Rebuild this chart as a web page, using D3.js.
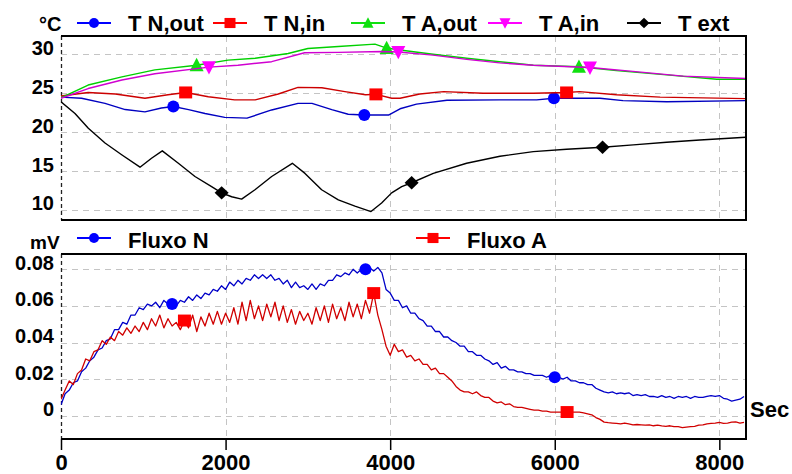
<!DOCTYPE html>
<html>
<head>
<meta charset="utf-8">
<script src="https://cdn.jsdelivr.net/npm/d3@7"></script>
<style>
  html, body { margin: 0; padding: 0; background: #fff; }
  svg { display: block; font-family: "Liberation Sans", Arial, sans-serif; font-weight: bold; }
</style>
</head>
<body>
<svg id="chart" width="792" height="474"></svg>
<script>
// ---------- Temperatures (°C) : [seconds, value] ----------
const tNout = [[0,24.5],[250,24.35],[535,23.7],[780,22.9],[1020,22.6],[1220,23.1],[1365,23.3],[1550,22.9],[1750,22.4],[1990,21.9],[2260,21.8],[2560,22.85],[2880,23.7],[3050,23.7],[3290,22.9],[3490,22.3],[3686,22.2],[3980,22.2],[4120,23.0],[4320,23.6],[4690,24.1],[5330,24.15],[5780,24.15],[5990,24.35],[6550,24.35],[6830,24.05],[7360,23.9],[8320,24.05]];
const tNin = [[0,24.65],[330,25.1],[660,24.9],[1020,24.35],[1300,24.8],[1515,25.1],[1790,24.55],[2110,24.15],[2360,24.15],[2640,24.9],[2880,25.75],[3170,25.7],[3450,25.2],[3700,24.8],[3827,24.85],[4020,24.35],[4120,24.35],[4360,24.9],[4650,25.2],[5130,25.0],[5740,25.0],[6144,25.1],[6300,25.2],[6750,24.8],[7280,24.5],[8320,24.3]];
const tAout = [[0,24.4],[330,26.05],[740,27.1],[1140,28.0],[1648,28.6],[2030,29.25],[2360,29.5],[2760,30.1],[3000,30.75],[3370,31.0],[3815,31.3],[3957,30.8],[4120,30.55],[4520,30.0],[4930,29.5],[5330,29.05],[5740,28.6],[6294,28.4],[6750,27.9],[7360,27.35],[7970,26.8],[8320,26.8]];
const tAin = [[0,24.35],[330,25.6],[740,26.7],[1140,27.5],[1798,28.35],[2150,28.6],[2560,29.05],[2960,30.2],[3370,30.25],[3900,30.35],[4099,30.3],[4520,29.9],[4930,29.35],[5330,28.9],[5740,28.6],[6428,28.3],[6950,27.8],[7560,27.2],[8320,26.9]];
const tExt = [[0,23.9],[170,22.4],[332,20.5],[535,18.6],[737,17.1],[960,15.5],[1100,16.65],[1231,17.6],[1426,16.0],[1628,14.3],[1830,13.0],[1952,12.2],[2074,11.7],[2195,11.4],[2357,12.6],[2560,14.3],[2811,16.0],[2965,14.7],[3167,12.6],[3370,11.3],[3572,10.5],[3767,9.8],[3896,10.9],[4018,12.2],[4140,13.0],[4261,13.5],[4524,14.7],[4929,16.0],[5334,16.9],[5739,17.5],[6144,17.8],[6581,18.06],[6954,18.36],[7359,18.7],[7764,19.0],[8320,19.35]];

// marker times for each temperature trace
const tNoutMarks = [1365, 3686, 5990];
const tNinMarks  = [1515, 3827, 6144];
const tAoutMarks = [1648, 3957, 6294];
const tAinMarks  = [1798, 4099, 6428];
const tExtMarks  = [1952, 4261, 6581];

// ---------- Heat flux (mV), sampled every 50 s ----------
const fluxSec = Array.from({length: 167}, (_, i) => i * 50);
const fluxoN = [
  0.006,0.012,0.014,0.018,0.019,0.024,0.026,0.030,0.032,0.036,
  0.037,0.041,0.042,0.047,0.047,0.051,0.050,0.055,0.055,0.059,
  0.058,0.061,0.060,0.062,0.059,0.063,0.061,0.061,0.060,0.063,
  0.062,0.065,0.063,0.066,0.064,0.067,0.066,0.069,0.068,0.071,
  0.069,0.073,0.071,0.074,0.072,0.075,0.074,0.077,0.075,0.077,
  0.075,0.077,0.074,0.075,0.072,0.074,0.070,0.073,0.070,0.071,
  0.069,0.072,0.069,0.072,0.071,0.074,0.074,0.077,0.076,0.078,
  0.077,0.080,0.078,0.080,0.080,0.081,0.079,0.081,0.078,0.069,
  0.067,0.063,0.063,0.059,0.060,0.056,0.056,0.053,0.052,0.049,
  0.049,0.046,0.046,0.043,0.043,0.041,0.040,0.038,0.038,0.035,
  0.035,0.033,0.033,0.031,0.030,0.028,0.029,0.026,0.027,0.025,
  0.025,0.024,0.024,0.023,0.023,0.022,0.022,0.022,0.021,0.022,
  0.021,0.021,0.020,0.021,0.019,0.019,0.018,0.018,0.017,0.017,
  0.015,0.014,0.013,0.0125,0.013,0.012,0.0125,0.012,0.0125,0.011,
  0.0115,0.011,0.0115,0.0105,0.0105,0.010,0.011,0.010,0.0105,0.0095,
  0.0105,0.010,0.0105,0.0095,0.0105,0.010,0.010,0.0105,0.011,0.0105,
  0.011,0.0095,0.009,0.008,0.0085,0.009,0.0105];
const fluxoA = [
  0.009,0.014,0.019,0.017,0.023,0.025,0.031,0.030,0.035,0.036,
  0.041,0.039,0.043,0.041,0.046,0.044,0.048,0.045,0.049,0.046,
  0.051,0.047,0.053,0.049,0.055,0.048,0.053,0.049,0.051,0.047,
  0.052,0.048,0.055,0.046,0.054,0.049,0.056,0.050,0.057,0.050,
  0.056,0.051,0.059,0.050,0.062,0.052,0.063,0.053,0.060,0.052,
  0.061,0.054,0.062,0.052,0.060,0.051,0.058,0.050,0.057,0.052,
  0.056,0.050,0.059,0.052,0.060,0.051,0.061,0.053,0.059,0.052,
  0.062,0.054,0.061,0.053,0.063,0.056,0.067,0.055,0.047,0.038,
  0.033,0.039,0.035,0.036,0.032,0.033,0.030,0.031,0.028,0.028,
  0.025,0.026,0.023,0.023,0.021,0.019,0.016,0.014,0.013,0.013,
  0.012,0.013,0.011,0.010,0.010,0.008,0.007,0.0075,0.006,0.0065,
  0.005,0.0045,0.0045,0.004,0.0035,0.003,0.003,0.0025,0.0025,0.002,
  0.002,0.002,0.002,0.002,0.002,0.002,0.002,0.0015,0.001,0.0005,
  -0.001,-0.002,-0.0035,-0.0038,-0.004,-0.0042,-0.0045,-0.004,-0.0045,-0.005,
  -0.0048,-0.005,-0.0052,-0.005,-0.0055,-0.0052,-0.0056,-0.0058,-0.0055,-0.006,
  -0.006,-0.0065,-0.0062,-0.006,-0.0058,-0.0052,-0.005,-0.0045,-0.0042,-0.004,
  -0.0036,-0.0042,-0.004,-0.0035,-0.0034,-0.004,-0.0036];
const fluxoNMarks = [1350, 3700, 6000];
const fluxoAMarks = [1500, 3800, 6150];

// ---------- Axis ticks ----------
const timeTicks = [0, 2000, 4000, 6000, 8000];
const tempTicks = [10, 15, 20, 25, 30];
const fluxTicks = [0, 0.02, 0.04, 0.06, 0.08];
const fluxTickLabels = ["0", "0.02", "0.04", "0.06", "0.08"];

// ---------- Layout ----------
const left = 61, right = 746;
const topPanel = {y0: 36, y1: 220};
const botPanel = {y0: 254, y1: 439};

const svg = d3.select("#chart");
const x = d3.scaleLinear().domain([0, 8324]).range([left, right]);
const yT = d3.scaleLinear().domain([8.715, 32.35]).range([topPanel.y1, topPanel.y0]);
const yB = d3.scaleLinear().domain([-0.01273, 0.08836]).range([botPanel.y1, botPanel.y0]);

const defs = svg.append("defs");
defs.append("clipPath").attr("id", "clipTop").append("rect")
  .attr("x", left).attr("y", topPanel.y0).attr("width", right - left).attr("height", topPanel.y1 - topPanel.y0);
defs.append("clipPath").attr("id", "clipBot").append("rect")
  .attr("x", left).attr("y", botPanel.y0).attr("width", right - left).attr("height", botPanel.y1 - botPanel.y0);

// marker shapes, w = width in px
function markerPath(shape, w) {
  const h = w / 2;
  switch (shape) {
    case "circle": return `M${h},0A${h},${h} 0 1,1 ${-h},0A${h},${h} 0 1,1 ${h},0Z`;
    case "square": return `M${-h},${-h * 0.92}H${h}V${h * 0.92}H${-h}Z`;
    case "up": return `M0,${-h * 1.05}L${h},${h * 0.85}L${-h},${h * 0.85}Z`;
    case "down": return `M0,${h * 1.05}L${h},${-h * 0.85}L${-h},${-h * 0.85}Z`;
    case "diamond": return `M0,${-h * 0.95}L${h},0L0,${h * 0.95}L${-h},0Z`;
  }
}

const gridColor = "#c4c4c4";

function drawGrid(yScale, ticks, panel) {
  const g = svg.append("g");
  g.selectAll("line.h").data(ticks).join("line")
    .attr("x1", left).attr("x2", right)
    .attr("y1", d => Math.round(yScale(d)) + 0.5).attr("y2", d => Math.round(yScale(d)) + 0.5)
    .attr("stroke", gridColor).attr("stroke-dasharray", "6,5").attr("stroke-width", 1);
  g.selectAll("line.v").data(timeTicks.slice(1)).join("line")
    .attr("x1", d => Math.round(x(d)) + 0.5).attr("x2", d => Math.round(x(d)) + 0.5)
    .attr("y1", panel.y0).attr("y2", panel.y1)
    .attr("stroke", gridColor).attr("stroke-dasharray", "6,5").attr("stroke-width", 1);
  // left edge: dark dashed
  g.append("line")
    .attr("x1", left + 0.5).attr("x2", left + 0.5).attr("y1", panel.y0).attr("y2", panel.y1)
    .attr("stroke", "#222").attr("stroke-dasharray", "4,3").attr("stroke-width", 1.3);
}

function drawFrame(panel) {
  const g = svg.append("g").attr("stroke", "#000").attr("stroke-width", 2).attr("fill", "none");
  g.append("path").attr("d", `M${left},${panel.y0}H${right}V${panel.y1}H${left}`);
}

function yLabels(scale, ticks, labels) {
  const ax = d3.axisLeft(scale).tickValues(ticks).tickSize(0).tickPadding(7)
    .tickFormat((d, i) => labels ? labels[i] : d);
  const g = svg.append("g").attr("transform", `translate(${left},0)`).call(ax);
  g.select(".domain").remove();
  g.selectAll("text").attr("dy", "0").attr("fill", "#000")
    .style("font-size", "20px").style("font-family", "Liberation Sans, Arial, sans-serif").style("font-weight", "bold");
}

function drawSeries(data, clipId, yScale, s) {
  const line = d3.line().x(d => x(d[0])).y(d => yScale(d[1]));
  const g = svg.append("g").attr("clip-path", `url(#${clipId})`);
  g.append("path").datum(data).attr("d", line)
    .attr("fill", "none").attr("stroke", s.line).attr("stroke-width", s.width || 1.4).attr("stroke-linejoin", "round");
  const pts = data.filter(d => s.marks.includes(d[0]));
  g.selectAll("path.m").data(pts).join("path")
    .attr("transform", d => `translate(${x(d[0])},${yScale(d[1])})`)
    .attr("d", markerPath(s.shape, s.size)).attr("fill", s.mark);
}

function legendItem(x0, yLine, yText, s, label) {
  const g = svg.append("g");
  g.append("line").attr("x1", x0).attr("x2", x0 + 34).attr("y1", yLine).attr("y2", yLine)
    .attr("stroke", s.mark).attr("stroke-width", 2);
  g.append("path").attr("transform", `translate(${x0 + 17},${yLine})`)
    .attr("d", markerPath(s.shape, s.shape === "circle" ? 10 : 11)).attr("fill", s.mark);
  g.append("text").attr("x", x0 + 51).attr("y", yText).attr("font-size", 22).attr("fill", "#000").text(label);
}

// ---------- Top panel ----------
const topSeries = [
  {name: "T N,out", data: tNout, marks: tNoutMarks, line: "#0000c0", mark: "#0000ff", shape: "circle", size: 12},
  {name: "T N,in",  data: tNin,  marks: tNinMarks,  line: "#cc0000", mark: "#ff0000", shape: "square", size: 13},
  {name: "T A,out", data: tAout, marks: tAoutMarks, line: "#00d000", mark: "#10e010", shape: "up", size: 14},
  {name: "T A,in",  data: tAin,  marks: tAinMarks,  line: "#d000d0", mark: "#ff00ff", shape: "down", size: 14},
  {name: "T ext",   data: tExt,  marks: tExtMarks,  line: "#000000", mark: "#000000", shape: "diamond", size: 14}
];

drawGrid(yT, tempTicks, topPanel);
topSeries.forEach(s => drawSeries(s.data, "clipTop", yT, s));
drawFrame(topPanel);
yLabels(yT, tempTicks, null);

svg.append("text").attr("x", 39).attr("y", 31).attr("font-size", 20).text("°C");
const topLegendX = [77, 213, 351, 488, 627];
topSeries.forEach((s, i) => legendItem(topLegendX[i], 23, 30.5, s, s.name));

// ---------- Bottom panel ----------
const botSeries = [
  {name: "Fluxo N", data: fluxSec.map((t, i) => [t, fluxoN[i]]), marks: fluxoNMarks, line: "#0000c8", mark: "#0000ff", shape: "circle", size: 12, width: 1.3},
  {name: "Fluxo A", data: fluxSec.map((t, i) => [t, fluxoA[i]]), marks: fluxoAMarks, line: "#d00000", mark: "#ff0000", shape: "square", size: 13, width: 1.3}
];

drawGrid(yB, fluxTicks, botPanel);
botSeries.forEach(s => drawSeries(s.data, "clipBot", yB, s));
drawFrame(botPanel);
yLabels(yB, fluxTicks, fluxTickLabels);

svg.append("text").attr("x", 30).attr("y", 249).attr("font-size", 19).text("mV");
legendItem(77, 238, 248, botSeries[0], "Fluxo N");
legendItem(416, 238, 248, botSeries[1], "Fluxo A");

// time axis
const xAxis = d3.axisBottom(x).tickValues(timeTicks).tickFormat(d3.format("d"))
  .tickSize(11).tickSizeOuter(0).tickPadding(4);
const gx = svg.append("g").attr("transform", `translate(0,${botPanel.y1})`).call(xAxis);
gx.select(".domain").remove();
gx.selectAll("line").attr("stroke", "#000").attr("stroke-width", 1.5);
gx.selectAll("text").attr("fill", "#000")
  .style("font-size", "22px").style("font-family", "Liberation Sans, Arial, sans-serif").style("font-weight", "bold");

svg.append("text").attr("x", 750).attr("y", 417).attr("font-size", 22).text("Sec");
</script>
</body>
</html>
